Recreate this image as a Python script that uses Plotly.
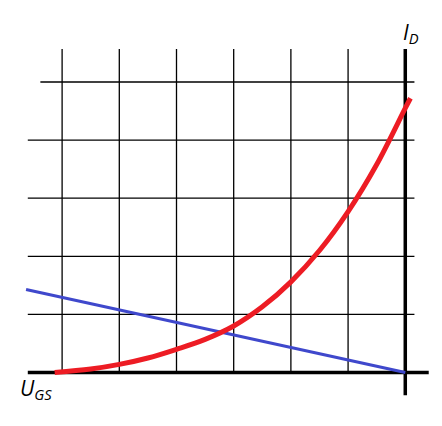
import plotly.graph_objects as go

# data (grid units; axis crossing at 0,0)
red_x = [-6.13, -5.5, -5.0, -4.5, -4.0, -3.5, -3.0, -2.5, -2.0, -1.5, -1.0, -0.5, 0.0, 0.09]
red_y = [0.0, 0.06, 0.14, 0.25, 0.40, 0.57, 0.80, 1.13, 1.56, 2.1, 2.77, 3.58, 4.55, 4.72]
blue_x = [-6.63, 0.0]
blue_y = [1.43, 0.0]
grid_x = [-6, -5, -4, -3, -2, -1]
grid_y = [1, 2, 3, 4, 5]
hline_start = [-6.6, -6.6, -6.6, -6.6, -6.38]

fig = go.Figure()
fig.add_trace(go.Scatter(x=blue_x, y=blue_y, mode="lines",
                         line=dict(color="#3F48CC", width=3), showlegend=False))
fig.add_trace(go.Scatter(x=red_x, y=red_y, mode="lines", line_shape="spline",
                         line=dict(color="#ED1C24", width=5, smoothing=1.0),
                         showlegend=False))

shapes = []
for gx in grid_x:
    shapes.append(dict(type="line", x0=gx, x1=gx, y0=0, y1=5.57,
                       line=dict(color="black", width=1.3), layer="below"))
for gy, xs in zip(grid_y, hline_start):
    shapes.append(dict(type="line", x0=xs, x1=0.16, y0=gy, y1=gy,
                       line=dict(color="black", width=1.3), layer="below"))
shapes.append(dict(type="line", x0=-6.6, x1=0.41, y0=0, y1=0,
                   line=dict(color="black", width=3.5), layer="below"))
shapes.append(dict(type="line", x0=0, x1=0, y0=-0.39, y1=5.57,
                   line=dict(color="black", width=3.5), layer="below"))

fig.update_layout(
    width=434, height=418, autosize=False,
    margin=dict(l=0, r=0, t=0, b=0),
    paper_bgcolor="white", plot_bgcolor="white",
    xaxis=dict(range=[-6.946, 0.642], visible=False, fixedrange=True),
    yaxis=dict(range=[-0.921, 6.274], visible=False, fixedrange=True),
    shapes=shapes,
    annotations=[
        dict(x=0.1, y=5.84, text="<i>I<sub>D</sub></i>", showarrow=False,
             font=dict(family="Open Sans", size=21, color="black")),
        dict(x=-6.45, y=-0.29, text="<i>U<sub>GS</sub></i>", showarrow=False,
             font=dict(family="Open Sans", size=21, color="black")),
    ],
)
fig.write_html("out.html")
